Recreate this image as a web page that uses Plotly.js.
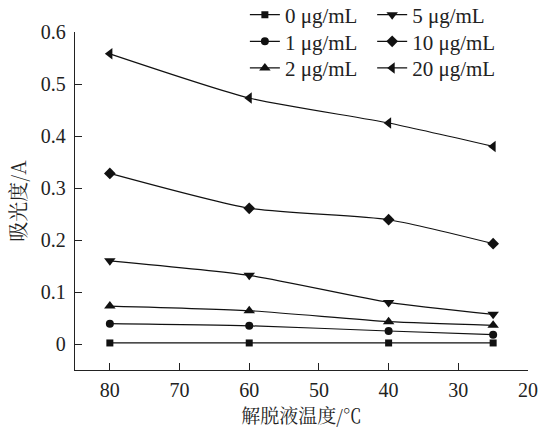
<!DOCTYPE html>
<html>
<head>
<meta charset="utf-8">
<script src="https://cdn.plot.ly/plotly-3.0.1.min.js"></script>
<style>html,body{margin:0;padding:0;background:#fff;}#chart{width:539px;height:428px;}</style>
</head>
<body>
<div id="chart"></div>
<script>
const temps = [80, 60, 40, 25];
const seriesNames = ["0 μg/mL", "1 μg/mL", "2 μg/mL", "5 μg/mL", "10 μg/mL", "20 μg/mL"];
const c0 = [0.002, 0.002, 0.002, 0.002];
const c1 = [0.039, 0.035, 0.025, 0.018];
const c2 = [0.073, 0.064, 0.043, 0.036];
const c5 = [0.160, 0.132, 0.080, 0.057];
const c10 = [0.328, 0.261, 0.239, 0.193];
const c20 = [0.558, 0.473, 0.425, 0.380];
const xTicks = [80, 70, 60, 50, 40, 30, 20];

const values = [c0, c1, c2, c5, c10, c20];
const symbols = ["square", "circle", "triangle-up", "triangle-down", "diamond", "triangle-left"];
const sizes = [7, 8, 10, 10, 9, 10];
const legendIds = ["legend", "legend2", "legend3", "legend4", "legend5", "legend6"];
const legendX = [0.375, 0.375, 0.375, 0.656, 0.656, 0.656];
const legendY = [1.0503, 0.9713, 0.8926, 1.0503, 0.9713, 0.8926];

const traces = values.map((v, i) => ({
  x: temps, y: v, name: seriesNames[i], type: "scatter", mode: "lines+markers",
  line: {color: "#111", width: 1.2, shape: "spline", smoothing: 0.6},
  marker: {symbol: symbols[i], size: sizes[i], color: "#111"},
  legend: legendIds[i]
}));

const fontFam = "Liberation Serif, 'Times New Roman', 'Noto Sans CJK SC', serif";
const cjkFam = "'Noto Serif CJK SC', 'Noto Sans CJK SC', serif";
const layout = {
  width: 539, height: 428,
  margin: {l: 75, r: 11, t: 32, b: 58, autoexpand: false},
  paper_bgcolor: "#fff", plot_bgcolor: "#fff",
  font: {family: fontFam, color: "#222", size: 20},
  showlegend: true,
  xaxis: {
    range: [85, 20], tickvals: xTicks, ticks: "inside", ticklen: 7, tickcolor: "#222",
    showline: true, linecolor: "#222", linewidth: 1.2, showgrid: false, zeroline: false,
    tickfont: {size: 20, family: fontFam}, ticklabelstandoff: 2, automargin: true,
    title: {text: "解脱液温度/℃", font: {size: 19, family: cjkFam}, standoff: 10}
  },
  yaxis: {
    range: [-0.05, 0.6], dtick: 0.1, tick0: 0, ticks: "inside", ticklen: 7, tickcolor: "#222",
    showline: true, linecolor: "#222", linewidth: 1.2, showgrid: false, zeroline: false,
    tickfont: {size: 20, family: fontFam}, ticklabelstandoff: 4, automargin: true,
    title: {text: "吸光度/A", font: {size: 20, family: cjkFam}, standoff: 8}
  }
};
legendIds.forEach((id, i) => {
  layout[id] = {x: legendX[i], y: legendY[i], xanchor: "left", yanchor: "middle",
    bgcolor: "rgba(0,0,0,0)", font: {size: 21, family: fontFam}, itemwidth: 30};
});
Plotly.newPlot("chart", traces, layout, {displayModeBar: false, staticPlot: true});
</script>
</body>
</html>
